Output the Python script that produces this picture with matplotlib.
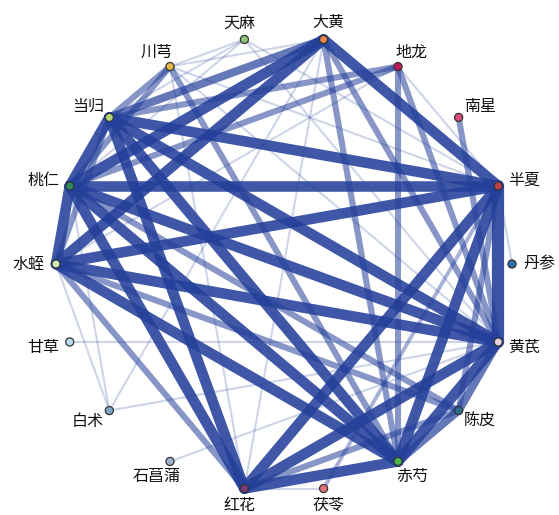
import numpy as np
import matplotlib
matplotlib.use("Agg")
import matplotlib.pyplot as plt

plt.rcParams['font.family'] = ['Noto Sans CJK SC', 'DejaVu Sans']

# herbs, counter-clockwise starting from the right (0 deg), 20 deg apart
herbs = ["丹参", "半夏", "南星", "地龙", "大黄", "天麻", "川芎", "当归", "桃仁",
         "水蛭", "甘草", "白术", "石菖蒲", "红花", "茯苓", "赤芍", "陈皮", "黄芪"]

node_colors = ["#2f6db3", "#c0404a", "#dc4a80", "#c2185b", "#ea8550", "#8fc47a",
               "#eab84a", "#b7d878", "#2e8b5f", "#d4edb4", "#b9ddf0", "#7fa9c6",
               "#9cb2cf", "#7a3a7c", "#e3717c", "#4cb84c", "#2a6f90", "#ead2e2"]

# co-occurrence links: (herb a, herb b, strength 1..3)
links_a = ["当归", "当归", "当归", "当归", "当归", "当归", "当归", "当归", "当归", "当归",
           "桃仁", "桃仁", "桃仁", "桃仁", "桃仁", "桃仁", "桃仁",
           "水蛭", "水蛭", "水蛭", "水蛭", "水蛭", "水蛭",
           "大黄", "大黄", "大黄", "大黄",
           "半夏", "半夏", "半夏", "半夏",
           "黄芪", "黄芪", "黄芪",
           "赤芍", "赤芍",
           "地龙", "地龙", "地龙", "地龙", "地龙",
           "川芎", "川芎", "川芎", "川芎", "川芎", "川芎",
           "天麻", "天麻", "天麻", "天麻",
           "南星", "丹参", "甘草",
           "白术", "白术", "白术", "白术", "石菖蒲",
           "茯苓", "茯苓", "红花"]
links_b = ["桃仁", "水蛭", "半夏", "黄芪", "赤芍", "红花", "大黄", "地龙", "川芎", "天麻",
           "半夏", "黄芪", "赤芍", "红花", "水蛭", "大黄", "陈皮",
           "半夏", "黄芪", "赤芍", "红花", "大黄", "陈皮",
           "半夏", "赤芍", "红花", "黄芪",
           "黄芪", "赤芍", "红花", "陈皮",
           "赤芍", "红花", "陈皮",
           "红花", "陈皮",
           "桃仁", "黄芪", "赤芍", "半夏", "水蛭",
           "桃仁", "赤芍", "黄芪", "红花", "大黄", "半夏",
           "半夏", "黄芪", "川芎", "桃仁",
           "黄芪", "半夏", "黄芪",
           "桃仁", "黄芪", "大黄", "水蛭", "黄芪",
           "半夏", "红花", "陈皮"]
links_w = [3, 2, 3, 3, 3, 3, 2.5, 2, 2, 1,
           3, 3, 3, 3, 3, 3, 2,
           3, 3, 3, 2, 3, 2,
           3, 2, 1, 2,
           3.4, 3, 3, 2,
           3, 3, 2.5,
           3, 2.5,
           2, 2, 2, 1, 1,
           2, 2, 1, 1, 1, 1,
           1, 1, 1, 1,
           2, 1, 1,
           1, 1, 1, 1, 1,
           1.5, 1, 2]

# circular layout
angles = np.deg2rad(np.arange(len(herbs)) * 360.0 / len(herbs))
xs = np.cos(angles)
ys = np.sin(angles)
pos = {h: (xs[i], ys[i]) for i, h in enumerate(herbs)}

fig = plt.figure(figsize=(5.59, 5.15), dpi=100, facecolor='w')
ax = fig.add_axes([0, 0, 1, 1])
ax.set_xlim(-284 / 228.0, 275 / 228.0)
ax.set_ylim(-251 / 228.0, 264 / 228.0)
ax.axis('off')


def edge_style(w):
    # strength -> (line width in pt, opacity)
    if w <= 1:
        return 1.5, 0.22
    if w <= 1.5:
        return 2.8, 0.4
    if w <= 2:
        return 4.4, 0.55
    if w <= 2.5:
        return 5.8, 0.7
    if w <= 3:
        return 7.6, 0.88
    return 8.8, 0.9


order = np.argsort(links_w, kind='stable')
for k in order:
    a, b, w = links_a[k], links_b[k], links_w[k]
    lw, al = edge_style(w)
    ax.plot([pos[a][0], pos[b][0]], [pos[a][1], pos[b][1]],
            color='#24409a', linewidth=lw, alpha=al,
            solid_capstyle='round', zorder=w)

ax.scatter(xs, ys, s=34, c=node_colors, edgecolors='#333333', linewidths=0.9, zorder=10)

# labels pushed outward on an ellipse
for i, h in enumerate(herbs):
    lx = xs[i] + 0.122 * np.cos(angles[i])
    ly = ys[i] + 0.074 * np.sin(angles[i])
    ax.text(lx, ly, h, ha='center', va='center', fontsize=11.5, color='#111111', zorder=11)

plt.savefig("out.png", dpi=100, facecolor='w')
